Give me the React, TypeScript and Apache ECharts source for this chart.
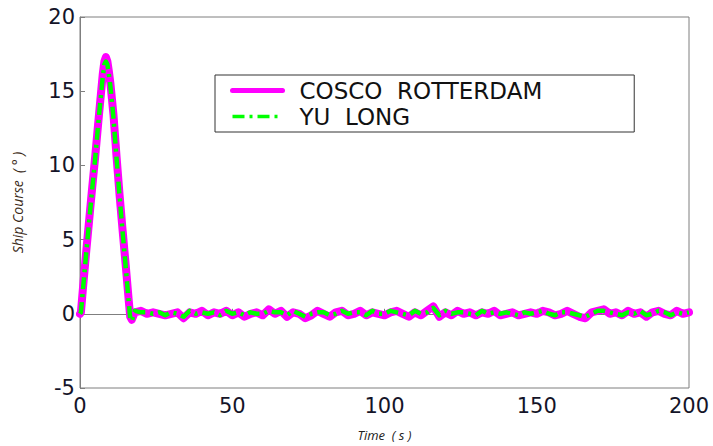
import React, { useEffect, useRef } from "react";
import * as echarts from "echarts";

// Time in seconds
const timeSeconds = [
  0, 0.3, 1, 2, 3, 4, 5, 6, 7, 7.5, 8, 8.5, 9, 9.5, 10, 11, 12, 13, 14, 15, 16, 16.5, 17,
  18, 20, 22, 24, 26, 28, 30, 32, 34, 36, 38, 40, 42, 44, 46, 48, 50, 52, 54, 56, 58,
  60, 62, 64, 66, 68, 70, 72, 74, 76, 78, 80, 82, 84, 86, 88, 90, 92, 94, 96, 98,
  100, 102, 104, 106, 108, 110, 112, 114, 116, 118, 120, 122, 124, 126, 128, 130, 132, 134, 136, 138,
  140, 142, 144, 146, 148, 150, 152, 154, 156, 158, 160, 162, 164, 166, 168, 170, 172, 174, 176, 178,
  180, 182, 184, 186, 188, 190, 192, 194, 196, 198, 200,
];

// Ship course (deg) - COSCO ROTTERDAM
const coscoCourse = [
  0, 0.1, 1.8, 4.1, 6.3, 8.5, 10.6, 12.9, 15.1, 16.2, 17.0, 17.3, 17.0, 16.3, 15.5, 13.4, 10.6, 8.0, 5.6, 3.3, 0.9, -0.2, -0.4,
  0.1, 0.2, 0.0, 0.1, 0.0, -0.1, 0.0, 0.1, -0.3, 0.1, 0.0, 0.2, -0.1, 0.1, 0.0, 0.2, -0.1, 0.1, -0.2, 0.0, 0.1,
  -0.1, 0.3, 0.0, 0.2, -0.2, 0.1, 0.0, -0.3, -0.1, 0.2, 0.0, -0.2, 0.1, 0.2, -0.1, 0.0, 0.2, -0.1, 0.1, 0.0,
  -0.1, 0.1, 0.2, 0.0, -0.2, 0.1, -0.1, 0.2, 0.5, -0.2, 0.1, -0.1, 0.2, 0.0, 0.1, -0.1, 0.1, 0.0, 0.2, -0.1,
  0.0, 0.1, -0.1, 0.0, 0.1, 0.0, 0.2, 0.1, -0.1, 0.0, 0.2, 0.0, -0.2, -0.3, 0.1, 0.2, 0.3, 0.0, 0.1, -0.1,
  0.2, 0.0, 0.1, -0.2, 0.1, 0.2, 0.0, -0.1, 0.2, 0.0, 0.1,
];

// Ship course (deg) - YU LONG
const yuLongCourse = [
  0, 0.1, 1.7, 4.0, 6.2, 8.4, 10.5, 12.8, 15.0, 16.0, 16.8, 17.0, 16.8, 16.1, 15.3, 13.2, 10.5, 7.9, 5.5, 3.2, 0.8, -0.3, -0.5,
  0.2, 0.1, 0.1, 0.0, 0.1, -0.1, 0.1, 0.0, -0.2, 0.2, 0.0, 0.1, 0.0, 0.1, -0.1, 0.2, 0.0, 0.1, -0.1, 0.1, 0.0,
  0.0, 0.2, 0.1, 0.1, -0.1, 0.2, 0.0, -0.2, 0.0, 0.1, 0.1, -0.1, 0.0, 0.2, 0.0, 0.1, 0.1, -0.1, 0.2, 0.0,
  0.0, 0.2, 0.1, 0.0, -0.1, 0.2, 0.0, 0.1, 0.4, -0.1, 0.2, 0.0, 0.1, 0.1, 0.0, -0.1, 0.2, 0.0, 0.1, 0.0,
  0.1, 0.0, -0.1, 0.1, 0.0, 0.1, 0.2, 0.0, -0.1, 0.1, 0.1, 0.0, -0.1, -0.2, 0.0, 0.2, 0.2, 0.1, 0.0, -0.1,
  0.1, 0.0, 0.2, -0.1, 0.0, 0.2, 0.1, -0.1, 0.1, 0.0, 0.1,
];

const seriesNames = ["COSCO  ROTTERDAM", "YU  LONG"];
const axisTitles = { x: "Time  ( s )", y: "Ship Course  ( ° )" };

export default function App() {
  const ref = useRef<HTMLDivElement>(null);

  useEffect(() => {
    if (!ref.current) return;
    const chart = echarts.init(ref.current, undefined, { renderer: "svg" });
    const axisGray = "#7f7f7f";
    const labelColor = "#141428";
    const makeData = (vals: number[]) => timeSeconds.map((t, i) => [t, vals[i]]);

    chart.setOption({
      animation: false,
      backgroundColor: "#ffffff",
      grid: {
        left: 80,
        right: 24,
        top: 17,
        bottom: 53,
        show: true,
        borderColor: axisGray,
        borderWidth: 1,
        backgroundColor: "transparent",
      },
      xAxis: {
        type: "value",
        min: 0,
        max: 200,
        interval: 50,
        name: axisTitles.x,
        nameLocation: "middle",
        nameGap: 40,
        nameTextStyle: {
          fontFamily: "Open Sans",
          fontStyle: "italic",
          fontSize: 13,
          color: "#222",
        },
        axisLine: { show: true, lineStyle: { color: axisGray, width: 1 } },
        axisTick: { show: true, inside: true, length: 5, lineStyle: { color: axisGray } },
        axisLabel: {
          fontFamily: "DejaVu Sans",
          fontSize: 21,
          color: labelColor,
          margin: 7,
        },
        splitLine: { show: false },
      },
      yAxis: {
        type: "value",
        min: -5,
        max: 20,
        interval: 5,
        name: axisTitles.y,
        nameLocation: "middle",
        nameGap: 56,
        nameRotate: 90,
        nameTextStyle: {
          fontFamily: "Open Sans",
          fontStyle: "italic",
          fontSize: 14,
          color: "#3a2a18",
        },
        axisLine: { show: true, lineStyle: { color: axisGray, width: 1 } },
        axisTick: { show: true, inside: true, length: 5, lineStyle: { color: axisGray } },
        axisLabel: {
          fontFamily: "DejaVu Sans",
          fontSize: 21,
          color: labelColor,
          margin: 5,
        },
        splitLine: { show: false },
      },
      legend: {
        show: true,
        orient: "vertical",
        left: 215,
        top: 75,
        backgroundColor: "#ffffff",
        borderColor: "#333333",
        borderWidth: 1,
        padding: [4, 92, 4, 15],
        itemWidth: 50,
        itemHeight: 14,
        itemGap: 3,
        textStyle: {
          fontFamily: "DejaVu Sans",
          fontSize: 23,
          color: "#111",
          lineHeight: 22,
          padding: [0, 0, 0, 12],
        },
        data: [
          { name: seriesNames[0], itemStyle: { opacity: 0 }, lineStyle: { width: 5 } },
          { name: seriesNames[1], itemStyle: { opacity: 0 }, lineStyle: { width: 3.5 } },
        ],
      },
      series: [
        {
          name: seriesNames[0],
          type: "line",
          data: makeData(coscoCourse),
          showSymbol: false,
          symbol: "none",
          lineStyle: { color: "#ff00ff", width: 8, cap: "round", join: "round" },
          itemStyle: { color: "#ff00ff" },
          clip: true,
        },
        {
          name: seriesNames[1],
          type: "line",
          data: makeData(yuLongCourse),
          showSymbol: false,
          symbol: "none",
          lineStyle: { color: "#00ff00", width: 4.5, type: [12, 5, 3, 5], join: "round" },
          itemStyle: { color: "#00ff00" },
          clip: true,
        },
      ],
    });

    return () => chart.dispose();
  }, []);

  return <div ref={ref} style={{ width: 713, height: 446, position: "absolute", left: 0, top: 0 }} />;
}
